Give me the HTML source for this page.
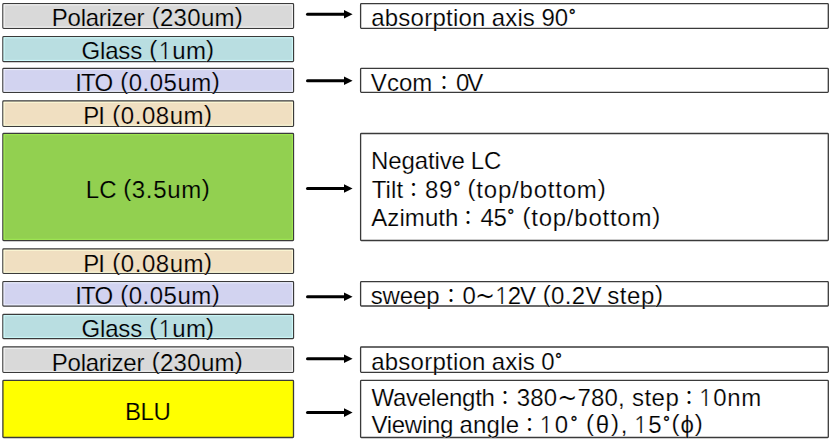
<!DOCTYPE html>
<html><head><meta charset="utf-8"><style>
html,body{margin:0;padding:0;background:#fff;width:831px;height:439px;overflow:hidden}
svg{display:block}
text{font-family:"Liberation Sans","Noto Sans CJK KR",sans-serif;font-size:24px;fill:#000}
text.c{font-family:"Noto Sans CJK KR","Liberation Sans",sans-serif;font-size:19.5px}
.d{font-family:"Liberation Serif",serif;stroke:#000;stroke-width:0.35px}
.t{font-family:"DejaVu Sans","Liberation Sans",sans-serif}
.o{font-family:"NanumGothic","Liberation Sans",sans-serif}
</style></head><body>
<svg width="831" height="439" viewBox="0 0 831 439">
<rect x="2.90" y="3.65" width="290.60" height="24.70" rx="0.8" fill="#D9D9D9" stroke="#3a3a3a" stroke-width="1.3"/><rect x="4.05" y="4.80" width="288.30" height="22.40" fill="none" stroke="#F9F9F9" stroke-width="1"/>
<text id="l0_0" x="51.86" y="26.00" textLength="92.55" lengthAdjust="spacing" stroke="#D9D9D9" stroke-width="0.2">Polarizer</text>
<text id="l0_1" x="151.69" y="26.00" textLength="91.10" lengthAdjust="spacing" stroke="#D9D9D9" stroke-width="0.2"><tspan dy="-2">(</tspan><tspan dy="2">230um</tspan><tspan dy="-2">)</tspan></text>
<rect x="2.90" y="36.60" width="290.60" height="24.95" rx="0.8" fill="#B9DEE1" stroke="#3a3a3a" stroke-width="1.3"/><rect x="4.05" y="37.75" width="288.30" height="22.65" fill="none" stroke="#D2FFFF" stroke-width="1"/>
<text id="l1_0" x="81.47" y="59.00" textLength="60.68" lengthAdjust="spacing" stroke="#B9DEE1" stroke-width="0.2">Glass</text>
<text id="l1_1" x="149.34" y="59.00" textLength="64.75" lengthAdjust="spacing" stroke="#B9DEE1" stroke-width="0.2"><tspan dy="-2">(</tspan><tspan class="o" dy="2">1</tspan>um<tspan dy="-2">)</tspan></text>
<rect x="2.90" y="68.40" width="290.60" height="24.00" rx="0.8" fill="#D2D3F0" stroke="#3a3a3a" stroke-width="1.3"/><rect x="4.05" y="69.55" width="288.30" height="21.70" fill="none" stroke="#F0F2FF" stroke-width="1"/>
<text id="l2_0" x="75.26" y="91.00" textLength="37.94" lengthAdjust="spacing" stroke="#D2D3F0" stroke-width="0.2">ITO</text>
<text id="l2_1" x="120.34" y="91.00" textLength="99.33" lengthAdjust="spacing" stroke="#D2D3F0" stroke-width="0.2"><tspan dy="-2">(</tspan><tspan dy="2">0.05um</tspan><tspan dy="-2">)</tspan></text>
<rect x="2.90" y="101.00" width="290.60" height="25.40" rx="0.8" fill="#F0DFC1" stroke="#3a3a3a" stroke-width="1.3"/><rect x="4.05" y="102.15" width="288.30" height="23.10" fill="none" stroke="#FFFFDC" stroke-width="1"/>
<text id="l3_0" x="83.19" y="124.00" textLength="21.79" lengthAdjust="spacing" stroke="#F0DFC1" stroke-width="0.2">PI</text>
<text id="l3_1" x="112.34" y="124.00" textLength="99.73" lengthAdjust="spacing" stroke="#F0DFC1" stroke-width="0.2"><tspan dy="-2">(</tspan><tspan dy="2">0.08um</tspan><tspan dy="-2">)</tspan></text>
<rect x="2.90" y="133.50" width="290.60" height="107.00" rx="0.8" fill="#92D050" stroke="#3a3a3a" stroke-width="1.3"/><rect x="4.05" y="134.65" width="288.30" height="104.70" fill="none" stroke="#A4EE54" stroke-width="1"/>
<text id="l4_0" x="85.86" y="198.00" textLength="30.62" lengthAdjust="spacing" stroke="#92D050" stroke-width="0.2">LC</text>
<text id="l4_1" x="123.20" y="198.00" textLength="86.56" lengthAdjust="spacing" stroke="#92D050" stroke-width="0.2"><tspan dy="-2">(</tspan><tspan dy="2">3.5um</tspan><tspan dy="-2">)</tspan></text>
<rect x="2.90" y="249.00" width="290.60" height="24.40" rx="0.8" fill="#F0DFC1" stroke="#3a3a3a" stroke-width="1.3"/><rect x="4.05" y="250.15" width="288.30" height="22.10" fill="none" stroke="#FFFFDC" stroke-width="1"/>
<text id="l5_0" x="83.19" y="272.00" textLength="21.79" lengthAdjust="spacing" stroke="#F0DFC1" stroke-width="0.2">PI</text>
<text id="l5_1" x="112.34" y="272.00" textLength="99.73" lengthAdjust="spacing" stroke="#F0DFC1" stroke-width="0.2"><tspan dy="-2">(</tspan><tspan dy="2">0.08um</tspan><tspan dy="-2">)</tspan></text>
<rect x="2.90" y="281.60" width="290.60" height="24.40" rx="0.8" fill="#D2D3F0" stroke="#3a3a3a" stroke-width="1.3"/><rect x="4.05" y="282.75" width="288.30" height="22.10" fill="none" stroke="#F0F2FF" stroke-width="1"/>
<text id="l6_0" x="75.26" y="304.00" textLength="37.94" lengthAdjust="spacing" stroke="#D2D3F0" stroke-width="0.2">ITO</text>
<text id="l6_1" x="120.34" y="304.00" textLength="99.33" lengthAdjust="spacing" stroke="#D2D3F0" stroke-width="0.2"><tspan dy="-2">(</tspan><tspan dy="2">0.05um</tspan><tspan dy="-2">)</tspan></text>
<rect x="2.90" y="314.50" width="290.60" height="24.00" rx="0.8" fill="#B9DEE1" stroke="#3a3a3a" stroke-width="1.3"/><rect x="4.05" y="315.65" width="288.30" height="21.70" fill="none" stroke="#D2FFFF" stroke-width="1"/>
<text id="l7_0" x="81.47" y="337.00" textLength="60.68" lengthAdjust="spacing" stroke="#B9DEE1" stroke-width="0.2">Glass</text>
<text id="l7_1" x="149.34" y="337.00" textLength="64.75" lengthAdjust="spacing" stroke="#B9DEE1" stroke-width="0.2"><tspan dy="-2">(</tspan><tspan class="o" dy="2">1</tspan>um<tspan dy="-2">)</tspan></text>
<rect x="2.90" y="347.00" width="290.60" height="25.40" rx="0.8" fill="#D9D9D9" stroke="#3a3a3a" stroke-width="1.3"/><rect x="4.05" y="348.15" width="288.30" height="23.10" fill="none" stroke="#F9F9F9" stroke-width="1"/>
<text id="l8_0" x="51.86" y="371.00" textLength="92.55" lengthAdjust="spacing" stroke="#D9D9D9" stroke-width="0.2">Polarizer</text>
<text id="l8_1" x="151.69" y="371.00" textLength="91.10" lengthAdjust="spacing" stroke="#D9D9D9" stroke-width="0.2"><tspan dy="-2">(</tspan><tspan dy="2">230um</tspan><tspan dy="-2">)</tspan></text>
<rect x="2.90" y="380.40" width="290.60" height="57.10" rx="0.8" fill="#FFFF00" stroke="#3a3a3a" stroke-width="1.3"/>
<text id="l9_0" x="125.02" y="420.00" textLength="45.81" lengthAdjust="spacing" stroke="#FFFF00" stroke-width="0.2">BLU</text>
<rect x="360.60" y="3.65" width="467.70" height="24.70" rx="0.8" fill="#fff" stroke="#3a3a3a" stroke-width="1.3"/>
<text id="r0_0_0" x="371.15" y="26.00" textLength="114.28" lengthAdjust="spacing" stroke="#fff" stroke-width="0.2">absorption</text>
<text id="r0_0_1" x="491.77" y="26.00" textLength="43.08" lengthAdjust="spacing" stroke="#fff" stroke-width="0.2">axis</text>
<text id="r0_0_2" x="541.39" y="26.00" textLength="34.91" lengthAdjust="spacing" stroke="#fff" stroke-width="0.2">90<tspan class="d">˚</tspan></text>
<rect x="360.60" y="68.40" width="467.70" height="24.00" rx="0.8" fill="#fff" stroke="#3a3a3a" stroke-width="1.3"/>
<text id="r1_0_0" x="370.85" y="91.00" textLength="61.47" lengthAdjust="spacing" stroke="#fff" stroke-width="0.2">Vcom</text>
<text id="r1_0_1" class="c" x="434.34" y="90.10">：</text>
<text id="r1_0_2" x="456.10" y="91.00" textLength="27.28" lengthAdjust="spacing" stroke="#fff" stroke-width="0.2">0V</text>
<rect x="360.60" y="133.50" width="467.70" height="107.00" rx="0.8" fill="#fff" stroke="#3a3a3a" stroke-width="1.3"/>
<text id="r2_0_0" x="371.02" y="169.00" textLength="93.87" lengthAdjust="spacing" stroke="#fff" stroke-width="0.2">Negative</text>
<text id="r2_0_1" x="470.73" y="169.00" textLength="30.55" lengthAdjust="spacing" stroke="#fff" stroke-width="0.2">LC</text>
<text id="r2_1_0" x="371.66" y="198.00" textLength="31.39" lengthAdjust="spacing" stroke="#fff" stroke-width="0.2">Tilt</text>
<text id="r2_1_1" class="c" x="403.79" y="197.10">：</text>
<text id="r2_1_2" x="425.05" y="198.00" textLength="35.86" lengthAdjust="spacing" stroke="#fff" stroke-width="0.2">89<tspan class="d">˚</tspan></text>
<text id="r2_1_3" x="467.54" y="198.00" textLength="138.12" lengthAdjust="spacing" stroke="#fff" stroke-width="0.2"><tspan dy="-2">(</tspan><tspan dy="2">top/bottom</tspan><tspan dy="-2">)</tspan></text>
<text id="r2_2_0" x="371.22" y="226.00" textLength="87.23" lengthAdjust="spacing" stroke="#fff" stroke-width="0.2">Azimuth</text>
<text id="r2_2_1" class="c" x="458.35" y="225.10">：</text>
<text id="r2_2_2" x="480.46" y="226.00" textLength="34.26" lengthAdjust="spacing" stroke="#fff" stroke-width="0.2">45<tspan class="d">˚</tspan></text>
<text id="r2_2_3" x="522.49" y="226.00" textLength="137.67" lengthAdjust="spacing" stroke="#fff" stroke-width="0.2"><tspan dy="-2">(</tspan><tspan dy="2">top/bottom</tspan><tspan dy="-2">)</tspan></text>
<rect x="360.60" y="281.60" width="467.70" height="24.40" rx="0.8" fill="#fff" stroke="#3a3a3a" stroke-width="1.3"/>
<text id="r3_0_0" x="370.72" y="304.00" textLength="68.96" lengthAdjust="spacing" stroke="#fff" stroke-width="0.2">sweep</text>
<text id="r3_0_1" class="c" x="441.14" y="303.10">：</text>
<text id="r3_0_2" x="462.57" y="304.00" textLength="73.45" lengthAdjust="spacing" stroke="#fff" stroke-width="0.2">0<tspan class="t">~</tspan><tspan class="o">1</tspan>2V</text>
<text id="r3_0_3" x="542.65" y="304.00" textLength="58.75" lengthAdjust="spacing" stroke="#fff" stroke-width="0.2"><tspan dy="-2">(</tspan><tspan dy="2">0.2V</tspan></text>
<text id="r3_0_4" x="607.18" y="304.00" textLength="55.80" lengthAdjust="spacing" stroke="#fff" stroke-width="0.2">step<tspan dy="-2">)</tspan></text>
<rect x="360.60" y="347.00" width="467.70" height="25.40" rx="0.8" fill="#fff" stroke="#3a3a3a" stroke-width="1.3"/>
<text id="r4_0_0" x="371.15" y="370.00" textLength="114.28" lengthAdjust="spacing" stroke="#fff" stroke-width="0.2">absorption</text>
<text id="r4_0_1" x="491.77" y="370.00" textLength="43.08" lengthAdjust="spacing" stroke="#fff" stroke-width="0.2">axis</text>
<text id="r4_0_2" x="541.37" y="370.00" textLength="21.24" lengthAdjust="spacing" stroke="#fff" stroke-width="0.2">0<tspan class="d">˚</tspan></text>
<rect x="360.60" y="380.40" width="467.70" height="57.10" rx="0.8" fill="#fff" stroke="#3a3a3a" stroke-width="1.3"/>
<text id="r5_0_0" x="371.42" y="406.00" textLength="123.52" lengthAdjust="spacing" stroke="#fff" stroke-width="0.2">Wavelength</text>
<text id="r5_0_1" class="c" x="495.28" y="405.10">：</text>
<text id="r5_0_2" x="516.82" y="406.00" textLength="107.97" lengthAdjust="spacing" stroke="#fff" stroke-width="0.2">380<tspan class="t">~</tspan>780,</text>
<text id="r5_0_3" x="631.92" y="406.00" textLength="46.86" lengthAdjust="spacing" stroke="#fff" stroke-width="0.2">step</text>
<text id="r5_0_4" class="c" x="679.34" y="405.10">：</text>
<text id="r5_0_5" x="698.08" y="406.00" textLength="63.24" lengthAdjust="spacing" stroke="#fff" stroke-width="0.2"><tspan class="o">1</tspan>0nm</text>
<text id="r5_1_0" x="371.47" y="433.00" textLength="81.86" lengthAdjust="spacing" stroke="#fff" stroke-width="0.2">Viewing</text>
<text id="r5_1_1" x="459.46" y="433.00" textLength="59.64" lengthAdjust="spacing" stroke="#fff" stroke-width="0.2">angle</text>
<text id="r5_1_2" class="c" x="519.80" y="432.10">：</text>
<text id="r5_1_3" x="538.56" y="433.00" textLength="39.35" lengthAdjust="spacing" stroke="#fff" stroke-width="0.2"><tspan class="o">1</tspan>0<tspan class="d">˚</tspan></text>
<text id="r5_1_4" x="586.00" y="433.00" textLength="41.48" lengthAdjust="spacing" stroke="#fff" stroke-width="0.2"><tspan dy="-2">(</tspan><tspan dy="2">θ</tspan><tspan dy="-2">)</tspan><tspan dy="2">,</tspan></text>
<text id="r5_1_5" x="632.91" y="433.00" textLength="69.85" lengthAdjust="spacing" stroke="#fff" stroke-width="0.2"><tspan class="o">1</tspan>5<tspan class="d">˚</tspan><tspan dy="-2">(</tspan><tspan dy="2">ϕ</tspan><tspan dy="-2">)</tspan></text>
<line x1="307.5" y1="14.2" x2="345" y2="14.2" stroke="#000" stroke-width="3" stroke-linecap="round"/>
<polygon points="344,9.90 352.6,14.2 344,18.50" fill="#000"/>
<line x1="307.5" y1="80.7" x2="345" y2="80.7" stroke="#000" stroke-width="3" stroke-linecap="round"/>
<polygon points="344,76.40 352.6,80.7 344,85.00" fill="#000"/>
<line x1="307.5" y1="188.55" x2="345" y2="188.55" stroke="#000" stroke-width="3" stroke-linecap="round"/>
<polygon points="344,184.25 352.6,188.55 344,192.85" fill="#000"/>
<line x1="307.5" y1="296.7" x2="345" y2="296.7" stroke="#000" stroke-width="3" stroke-linecap="round"/>
<polygon points="344,292.40 352.6,296.7 344,301.00" fill="#000"/>
<line x1="307.5" y1="358.8" x2="345" y2="358.8" stroke="#000" stroke-width="3" stroke-linecap="round"/>
<polygon points="344,354.50 352.6,358.8 344,363.10" fill="#000"/>
<line x1="307.5" y1="412.6" x2="345" y2="412.6" stroke="#000" stroke-width="3" stroke-linecap="round"/>
<polygon points="344,408.30 352.6,412.6 344,416.90" fill="#000"/>
</svg>
</body></html>
